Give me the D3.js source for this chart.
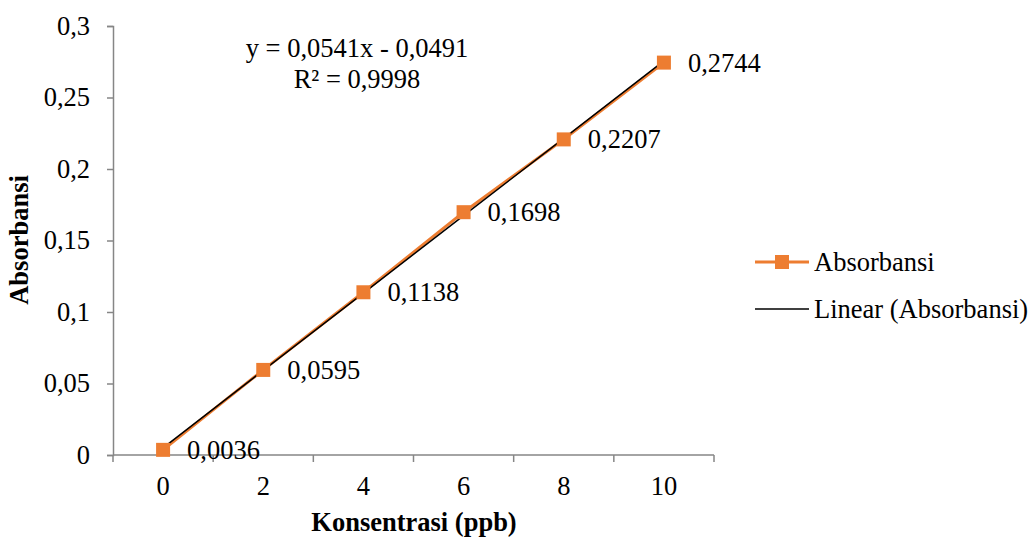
<!DOCTYPE html>
<html><head><meta charset="utf-8">
<script src="https://cdn.jsdelivr.net/npm/d3@7"></script>
<style>body{margin:0;background:#fff}svg{display:block}</style>
</head><body>
<svg id="c" width="1029" height="538"></svg>
<script>
const categories = ["0","2","4","6","8","10"];
const absorbansi = [0.0036,0.0595,0.1138,0.1698,0.2207,0.2744];
const labels = ["0,0036","0,0595","0,1138","0,1698","0,2207","0,2744"];
const yTicks = [0,0.05,0.1,0.15,0.2,0.25,0.3];
const yTickLabels = ["0","0,05","0,1","0,15","0,2","0,25","0,3"];
const equationText = ["y = 0,0541x - 0,0491","R² = 0,9998"];

const FONT='"Liberation Serif","Times New Roman",serif';
const FS="26.5px";
const svg = d3.select("#c").style("font-family",FONT);
const L=113, R=714, T=26, B=455;
const x = d3.scaleBand().domain(categories).range([L,R]);
const y = d3.scaleLinear().domain([0,0.3]).range([B,T]);
const cx = d => x(d)+x.bandwidth()/2;
const axisColor="#868686";

// y axis
const ya = svg.append("g").attr("transform",`translate(${L},0)`)
  .call(d3.axisLeft(y).tickValues(yTicks).tickSize(6).tickPadding(17).tickFormat((d,i)=>yTickLabels[i]));
ya.attr("font-family",null).attr("font-size",null);
ya.select(".domain").attr("stroke",axisColor).attr("stroke-width",1.5);
ya.selectAll(".tick line").attr("stroke",axisColor).attr("stroke-width",1.5);
ya.selectAll(".tick text").style("font-size",FS).style("font-family",FONT).attr("fill","#000");

// x axis
const xa = svg.append("g").attr("transform",`translate(0,${B})`);
xa.append("line").attr("x1",L).attr("x2",R).attr("y1",0).attr("y2",0).attr("stroke",axisColor).attr("stroke-width",1.5);
const bounds = categories.map(c=>x(c)).concat([x(categories[categories.length-1])+x.bandwidth()]);
xa.selectAll("line.tk").data(bounds).enter().append("line").attr("class","tk")
  .attr("x1",d=>d).attr("x2",d=>d).attr("y1",0).attr("y2",7).attr("stroke",axisColor).attr("stroke-width",1.5);
xa.selectAll("text").data(categories).enter().append("text")
  .attr("x",d=>cx(d)).attr("y",40).attr("text-anchor","middle").style("font-size",FS).text(d=>d);

// series line
const line = d3.line().x((d,i)=>cx(categories[i])).y(d=>y(d));
svg.append("path").datum(absorbansi).attr("d",line).attr("fill","none").attr("stroke","#ED7D31").attr("stroke-width",3);

// linear trend (least squares over category index 1..n, as Excel does)
const n=absorbansi.length, xs=d3.range(1,n+1);
const mx=d3.mean(xs), my=d3.mean(absorbansi);
const slope=d3.sum(xs.map((v,i)=>(v-mx)*(absorbansi[i]-my)))/d3.sum(xs.map(v=>(v-mx)*(v-mx)));
const icpt=my-slope*mx;
const trend = xs.map(v=>slope*v+icpt);
svg.append("path").datum(trend).attr("d",line).attr("fill","none").attr("stroke","#000").attr("stroke-width",1.5);

// markers
const ms=14;
svg.selectAll("rect.m").data(absorbansi).enter().append("rect").attr("class","m")
  .attr("x",(d,i)=>cx(categories[i])-ms/2).attr("y",d=>y(d)-ms/2).attr("width",ms).attr("height",ms).attr("fill","#ED7D31");

// data labels
svg.selectAll("text.dl").data(absorbansi).enter().append("text").attr("class","dl")
  .attr("x",(d,i)=>cx(categories[i])+24).attr("y",d=>y(d)+9).style("font-size",FS).text((d,i)=>labels[i]);

// equation
svg.selectAll("text.eq").data(equationText).enter().append("text").attr("class","eq")
  .attr("x",357).attr("y",(d,i)=>57+i*31).attr("text-anchor","middle").style("font-size",FS).text(d=>d);

// axis titles
svg.append("text").attr("x",414).attr("y",531).attr("text-anchor","middle").style("font-size",FS).attr("font-weight","bold").text("Konsentrasi (ppb)");
svg.append("text").attr("transform","translate(28,240) rotate(-90)").attr("text-anchor","middle").style("font-size",FS).attr("font-weight","bold").text("Absorbansi");

// legend
const lg = svg.append("g");
lg.append("line").attr("x1",755).attr("x2",809).attr("y1",262).attr("y2",262).attr("stroke","#ED7D31").attr("stroke-width",3);
lg.append("rect").attr("x",782-7).attr("y",262-7).attr("width",14).attr("height",14).attr("fill","#ED7D31");
lg.append("text").attr("x",814).attr("y",271).style("font-size",FS).text("Absorbansi");
lg.append("line").attr("x1",755).attr("x2",809).attr("y1",309).attr("y2",309).attr("stroke","#000").attr("stroke-width",1.5);
lg.append("text").attr("x",814).attr("y",318).style("font-size",FS).text("Linear (Absorbansi)");
</script>
</body></html>
